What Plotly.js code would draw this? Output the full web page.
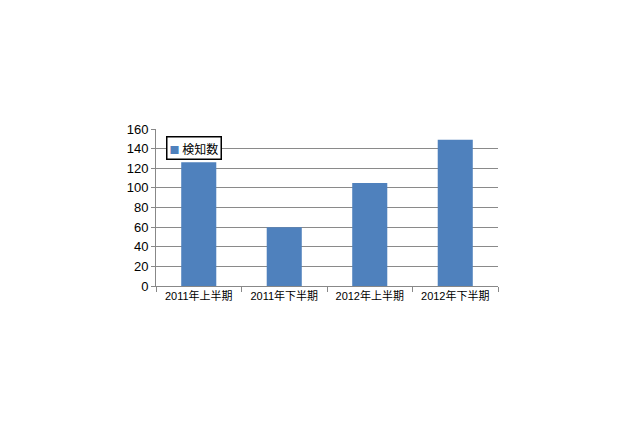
<!DOCTYPE html>
<html>
<head>
<meta charset="utf-8">
<script src="https://cdn.plot.ly/plotly-3.0.1.min.js"></script>
<style>
  html, body { margin: 0; padding: 0; background: #fff; }
  #chart { width: 640px; height: 426px; }
</style>
</head>
<body>
<div id="chart"></div>
<script>
// half-year periods and detection counts
const periods = ["2011年上半期", "2011年下半期", "2012年上半期", "2012年下半期"];
const counts = [126, 60, 105, 149];
const seriesName = "検知数";
const yTicks = [0, 20, 40, 60, 80, 100, 120, 140, 160];

const fontFam = '"Liberation Sans", Arial, "Noto Sans CJK JP", sans-serif';
const barColor = "#4F81BD";

const data = [{
    type: "bar",
    x: periods,
    y: counts,
    name: seriesName,
    marker: { color: barColor },
    showlegend: false
}];

// plotly's own legend is too roomy, so the small boxed key is an annotation
const legendKey = {
    xref: "paper", yref: "paper",
    x: 0.03, y: 0.955,
    xanchor: "left", yanchor: "top",
    showarrow: false,
    text: '<span style="color:' + barColor + ';font-size:10px">■</span> ' + seriesName,
    font: { size: 12, family: '"Noto Sans CJK JP", sans-serif', color: "#000" },
    bgcolor: "#fff",
    bordercolor: "#000",
    borderwidth: 1.5,
    borderpad: 2
};

const layout = {
    width: 640,
    height: 426,
    margin: { l: 156, r: 142, t: 129, b: 140 },
    paper_bgcolor: "#fff",
    plot_bgcolor: "#fff",
    bargap: 0.59,
    font: { family: fontFam, color: "#000" },
    xaxis: {
        type: "category",
        showline: true,
        linecolor: "#888",
        linewidth: 1,
        ticks: "outside",
        tickson: "boundaries",
        ticklen: 5,
        tickcolor: "#888",
        tickfont: { size: 11, family: fontFam },
        showgrid: false,
        fixedrange: true
    },
    yaxis: {
        range: [0, 160],
        tickvals: yTicks,
        ticktext: yTicks.map(String),
        showline: true,
        linecolor: "#888",
        ticks: "outside",
        ticklen: 4,
        tickcolor: "#888",
        gridcolor: "#8a8a8a",
        gridwidth: 1,
        zeroline: false,
        tickfont: { size: 13, family: fontFam },
        fixedrange: true
    },
    showlegend: false,
    annotations: [legendKey]
};

Plotly.newPlot("chart", data, layout, { displayModeBar: false, staticPlot: true });
</script>
</body>
</html>
